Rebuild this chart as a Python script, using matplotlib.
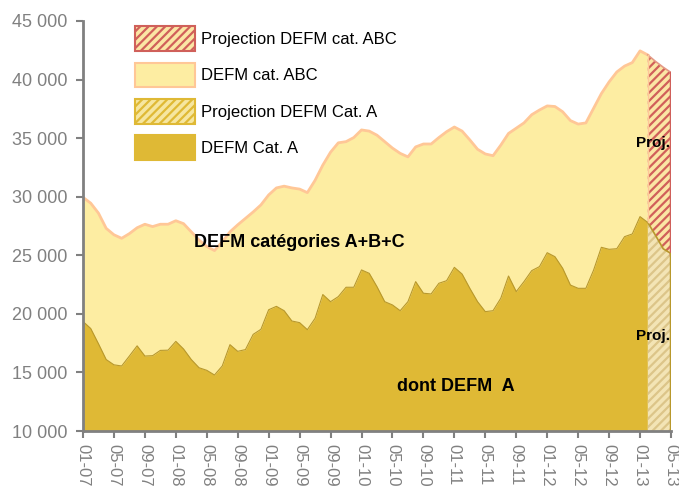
import matplotlib.pyplot as plt
import numpy as np
from matplotlib.patches import Patch

gold = '#DFB935'
gold_edge = '#B8982C'
light_yellow = '#FDEDA2'
peach = '#FFC797'
red = '#D0605A'
beige = '#F3E4B5'
beige_hatch = '#DCC589'
grey = '#808080'

plt.rcParams['font.family'] = 'Liberation Sans'
plt.rcParams['hatch.linewidth'] = 1.6

# monthly values, 01-07 .. 02-13
abc = [29950, 29450, 28600, 27300, 26750, 26450, 26850, 27350, 27650, 27450,
       27650, 27650, 27950, 27700, 27000, 26300, 25750, 25400, 26150, 27000,
       27600, 28150, 28700, 29300, 30150, 30750, 30900, 30750, 30650, 30350,
       31400, 32700, 33800, 34600, 34700, 35050, 35700, 35600, 35250, 34700,
       34150, 33700, 33400, 34250, 34500, 34500, 35050, 35550, 35950, 35600,
       34850, 34050, 33650, 33500, 34400, 35400, 35850, 36300, 37000, 37400,
       37750, 37700, 37250, 36500, 36200, 36300, 37550, 38800, 39800, 40650,
       41150, 41450, 42450, 42100]
cat_a = [19350, 18750, 17450, 16100, 15650, 15550, 16400, 17270, 16400, 16430,
         16880, 16900, 17650, 17000, 16100, 15400, 15180, 14780, 15550, 17370,
         16800, 16950, 18250, 18680, 20350, 20640, 20270, 19390, 19250, 18650,
         19620, 21650, 21040, 21470, 22270, 22270, 23750, 23460, 22320, 21040,
         20760, 20270, 21040, 22750, 21760, 21700, 22610, 22830, 23970, 23400,
         22180, 21040, 20190, 20270, 21330, 23230, 21900, 22750, 23690, 24030,
         25220, 24880, 23890, 22460, 22180, 22180, 23740, 25680, 25510, 25560,
         26590, 26820, 28300, 27800]
# projection 02-13 .. 05-13
abc_proj = [42100, 41550, 41050, 40600]
cat_a_proj = [27800, 26700, 25550, 25150]

tick_labels = ['01-07', '05-07', '09-07', '01-08', '05-08', '09-08', '01-09',
               '05-09', '09-09', '01-10', '05-10', '09-10', '01-11', '05-11',
               '09-11', '01-12', '05-12', '09-12', '01-13', '05-13']

months = np.arange(len(abc))
proj_months = np.arange(len(abc) - 1, len(abc) - 1 + len(abc_proj))
last = proj_months[-1]

fig = plt.figure(figsize=(6.79, 4.88), dpi=100)
ax = fig.add_axes([0.1222, 0.1168, 0.866, 0.8402])

ax.fill_between(months, 0, abc, color=light_yellow, lw=0)
ax.plot(months, abc, color=peach, lw=2)
ax.fill_between(months, 0, cat_a, color=gold, lw=0)
ax.plot(months, cat_a, color=gold_edge, lw=0.8)

ax.fill_between(proj_months, cat_a_proj, abc_proj, facecolor='#FBE6A4',
                edgecolor=red, hatch='////', lw=0)
ax.fill_between(proj_months, 0, cat_a_proj, facecolor=beige,
                edgecolor=beige_hatch, hatch='////', lw=0)
ax.plot(proj_months, abc_proj, color='#E49A86', lw=1.2)
ax.plot(proj_months, cat_a_proj, color=gold_edge, lw=1.2)
ax.plot([proj_months[0]] * 2, [cat_a_proj[0], abc_proj[0]], color=peach, lw=1)
ax.plot([last, last], [cat_a_proj[-1], abc_proj[-1]], color=red, lw=2.5)
ax.plot([last, last], [0, cat_a_proj[-1]], color=gold_edge, lw=2.5)

ax.set_xlim(0, last)
ax.set_ylim(10000, 45000)
ax.set_xticks(np.arange(0, last + 1, 4))
ax.set_xticklabels(tick_labels, rotation=270)
yt = np.arange(10000, 45001, 5000)
ax.set_yticks(yt)
ax.set_yticklabels(['{:,}'.format(v).replace(',', ' ') for v in yt])

for s in ['top', 'right']:
    ax.spines[s].set_visible(False)
for s in ['left', 'bottom']:
    ax.spines[s].set_color(grey)
    ax.spines[s].set_linewidth(2)
ax.tick_params(axis='both', colors=grey, labelcolor=grey, length=5,
               width=1.5, labelsize=13)
ax.tick_params(axis='y', pad=6)
ax.tick_params(axis='x', pad=4, labelsize=12)

ax.text(27.9, 26130, 'DEFM catégories A+B+C', fontsize=13, fontweight='bold',
        ha='center', va='center')
ax.text(48.2, 13760, 'dont DEFM  A', fontsize=13, fontweight='bold',
        ha='center', va='center')
ax.text(73.7, 34590, 'Proj.', fontsize=11, fontweight='bold',
        ha='center', va='center')
ax.text(73.7, 18110, 'Proj.', fontsize=11, fontweight='bold',
        ha='center', va='center')

handles = [
    Patch(facecolor='#FBE6A4', edgecolor=red, hatch='////', lw=1.5),
    Patch(facecolor=light_yellow, edgecolor=peach, lw=1.5),
    Patch(facecolor='#F6E6A0', edgecolor=gold, hatch='////', lw=1.5),
    Patch(facecolor=gold, edgecolor=gold, lw=1.5),
]
labels = ['Projection DEFM cat. ABC', 'DEFM cat. ABC',
          'Projection DEFM Cat. A', 'DEFM Cat. A']
fig.legend(handles, labels, loc='upper left', bbox_to_anchor=(0.199, 0.946),
           frameon=False, fontsize=12, handlelength=3.6, handleheight=1.9,
           labelspacing=0.7, handletextpad=0.35, borderpad=0,
           borderaxespad=0)

fig.savefig('out.png', dpi=100)
